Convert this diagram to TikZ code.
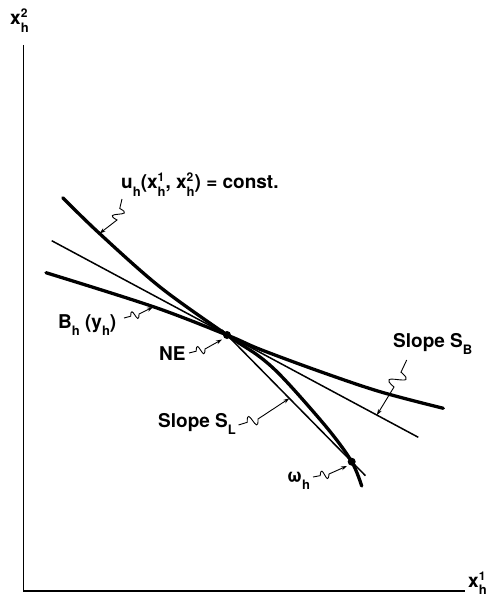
\documentclass[tikz,border=0pt]{standalone}
\usepackage{fontspec}
\setmainfont{TeX Gyre Heros}
\usetikzlibrary{arrows.meta,calc}
\newcommand\sbx[1]{\raisebox{-7.5pt}{\fontsize{13}{13}\selectfont #1}}
\newcommand\ssx[2]{\makebox[0pt][l]{\raisebox{7pt}{\fontsize{12}{12}\selectfont #1}}\raisebox{-7.5pt}{\fontsize{13}{13}\selectfont #2}}
\newcommand\squigarrow[3]{\draw[squig] (#1) -- ($(#1)!0.45!(#2)$) coordinate (#1m) .. controls ($(#1m)!1.7!75:(#2)$) and ($(#2)!1.7!75:(#1m)$) .. (#2) -- (#3);}
\begin{document}
\begin{tikzpicture}[x=1pt,y=-1pt,
  axis/.style={line width=1.9pt},
  thickcurve/.style={line width=3.3pt, line cap=round},
  thinline/.style={line width=1.5pt},
  lbl/.style={inner sep=0pt, anchor=base west, font=\fontsize{19}{22}\selectfont\bfseries},
  squig/.style={line width=0.9pt, -{Stealth[length=6pt,width=4pt]}},
  dot/.style={circle, fill=black, inner sep=0pt, minimum size=8pt},
]
\useasboundingbox (0,0) rectangle (488,596);
% axes
\coordinate (o) at (23.5,591);
\coordinate (ytop) at (23.5,45);
\coordinate (xend) at (465,591);
\draw[axis] (ytop) -- (o) -- (xend);
\node[lbl] (ylab) at (10,25) {x\ssx{2}{h}};
\node[lbl] (xlab) at (468,587) {x\ssx{1}{h}};
% key points
\coordinate (NEc) at (227,335);
\coordinate (wc) at (351.7,461.7);
% indifference curve
\draw[thickcurve] plot[smooth, tension=0.55] coordinates {(62.7,197.7) (99.3,233.3) (160,287) (227,335) (260,357) (285,380) (328,429) (351.7,461.7) (361.7,486)};
% budget curve
\draw[thickcurve] plot[smooth, tension=0.55] coordinates {(46,272.7) (153.3,306.7) (227,335) (260,349.3) (320,371.5) (380,391.7) (443.3,408.3)};
% slope S_B line
\coordinate (sb1) at (51.7,240.7);
\coordinate (sb2) at (418.3,437.3);
\draw[thinline] (sb1) -- (sb2);
% slope S_L line
\draw[thinline] ($(NEc)!-0.04!(wc)$) coordinate (sl1) -- ($(NEc)!1.11!(wc)$) coordinate (sl2);
% labels
\node[lbl] (ulab) at (121,188.5) {u\sbx{h}(x\ssx{1}{h}, x\ssx{2}{h}) = const.};
\node[lbl] (blab) at (58,328) {B\sbx{h} (y\sbx{h})};
\node[lbl] (nelab) at (159,360) {NE};
\node[lbl] (sblab) at (393,347) {Slope S\sbx{B}};
\node[lbl] (sllab) at (158,427) {Slope S\sbx{L}};
\node[lbl] (wlab) at (287,482) {ω\sbx{h}};
% squiggle leaders
\coordinate (us) at (122,199); \coordinate (uk) at (117,220); \coordinate (ut) at (99.5,233.5);
\squigarrow{us}{uk}{ut}
\coordinate (bs) at (124,318); \coordinate (bk) at (139,314); \coordinate (bt) at (153,307);
\squigarrow{bs}{bk}{bt}
\coordinate (ns) at (189,353); \coordinate (nk) at (205,349); \coordinate (nt) at (222,339.5);
\squigarrow{ns}{nk}{nt}
\coordinate (ss) at (406.7,360); \coordinate (sk) at (394,387); \coordinate (st) at ($(sb1)!0.887!(sb2)$);
\squigarrow{ss}{sk}{st}
\coordinate (ls) at (238.5,425); \coordinate (lk) at (258,419); \coordinate (lt) at ($(NEc)!0.5!(wc)$);
\squigarrow{ls}{lk}{lt}
\coordinate (ws) at (313,477); \coordinate (wk) at (329,474); \coordinate (wt) at (347,466);
\squigarrow{ws}{wk}{wt}
% dots
\node[dot] (NE) at (NEc) {};
\node[dot] (w) at (wc) {};
\end{tikzpicture}
\end{document}
